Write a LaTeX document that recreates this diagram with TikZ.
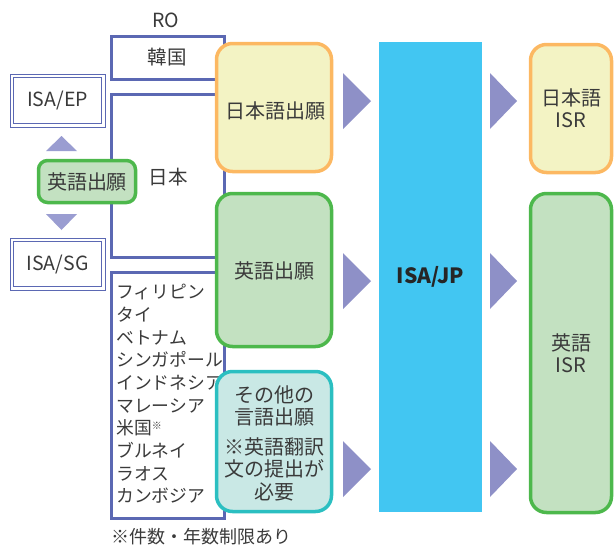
\documentclass[tikz,border=0pt]{standalone}
\usepackage{fontspec}
\setmainfont{Noto Sans CJK JP}
\definecolor{lineblue}{HTML}{5B68B3}
\definecolor{tri}{HTML}{9A9DD1}
\definecolor{arr}{HTML}{8E90C7}
\definecolor{grnB}{HTML}{4DB84C}
\definecolor{grnF}{HTML}{C3E1C1}
\definecolor{orgB}{HTML}{FCB862}
\definecolor{orgF}{HTML}{F3F3C4}
\definecolor{tealB}{HTML}{2BBFC1}
\definecolor{tealF}{HTML}{C9E8E5}
\definecolor{jpblue}{HTML}{42C6F2}
\definecolor{txt}{HTML}{3A3A3A}
\tikzset{
  bluebox/.style={draw=lineblue, line width=3pt, inner sep=0pt},
  rbox/.style={rounded corners=16pt, line width=3.5pt, inner sep=0pt, text=txt, align=center, font=\fontsize{20}{22}\selectfont},
  obox/.style={rbox, draw=orgB, fill=orgF},
  gbox/.style={rbox, draw=grnB, fill=grnF},
  tbox/.style={rbox, draw=tealB, fill=tealF},
  lbl/.style={text=txt, inner sep=0pt, font=\fontsize{19.5}{22}\selectfont},
  listtxt/.style={text=txt, inner sep=0pt, align=left, font=\fontsize{17.8}{22.7}\selectfont},
  boxtxt/.style={text=txt, inner sep=0pt, align=center, font=\fontsize{20}{22}\selectfont},
  arrowtri/.style={fill=arr},
  smalltri/.style={fill=tri}
}
\begin{document}
\begin{tikzpicture}[x=1pt,y=-1pt]
\useasboundingbox (0,0) rectangle (614,547);
% left bracket boxes
\node[bluebox, minimum width=113pt, minimum height=43pt] (kr) at (167.5,57.5) {};
\node[bluebox, minimum width=113pt, minimum height=163pt] (jp) at (167.5,175.5) {};
\node[bluebox, minimum width=113pt, minimum height=246pt] (lst) at (167.5,395) {};
\node[lbl] (ro) at (166,20) {RO};
\node[lbl] (krt) at (167,57) {韓国};
\node[lbl] (jpt) at (168,177) {日本};
\node[listtxt, anchor=north west] (lstt) at (116,284) {フィリピン\\タイ\\ベトナム\\シンガポール\\インドネシア\\マレーシア\\米国{\fontsize{10}{10}\selectfont\raisebox{5pt}{※}}\\ブルネイ\\ラオス\\カンボジア};
\node[text=txt, inner sep=0pt, anchor=west, font=\fontsize{18}{20}\selectfont] (note) at (111,537) {※件数・年数制限あり};
% ISA/EP and ISA/SG double boxes
\node[draw=lineblue, line width=0.9pt, minimum width=95pt, minimum height=53pt, inner sep=0pt] (ep) at (57.5,100.5) {};
\node[draw=lineblue, line width=1.8pt, minimum width=88pt, minimum height=46pt, inner sep=0pt, lbl] (epi) at (57.5,100.5) {ISA/EP};
\node[draw=lineblue, line width=0.9pt, minimum width=95pt, minimum height=52pt, inner sep=0pt] (sg) at (57.5,264) {};
\node[draw=lineblue, line width=1.8pt, minimum width=88pt, minimum height=45pt, inner sep=0pt, lbl] (sgi) at (57.5,264) {ISA/SG};
\fill[smalltri] (46,151) -- (77,151) -- (61.5,136) -- cycle;
\fill[smalltri] (46,214) -- (77,214) -- (61.5,230) -- cycle;
\node[gbox, rounded corners=9pt, minimum width=97pt, minimum height=42pt] (en0) at (87,181.5) {英語出願};
% application boxes
\node[obox, minimum width=115pt, minimum height=128pt] (jpapp) at (274,107.5) {};
\node[boxtxt] (jpappt) at (275,111) {日本語出願};
\node[gbox, minimum width=115pt, minimum height=153pt] (enapp) at (274,270) {};
\node[boxtxt] (enappt) at (274,271) {英語出願};
\node[tbox, minimum width=115pt, minimum height=140pt] (otapp) at (274,441.5) {};
\node[boxtxt] (ot1) at (274,406) {その他の\\言語出願};
\node[boxtxt, font=\fontsize{20}{22.5}\selectfont] (ot2) at (274,469) {※英語翻訳\\文の提出が\\必要};
% ISA/JP
\node[fill=jpblue, minimum width=103pt, minimum height=470pt, inner sep=0pt, text=black!85, font=\fontsize{21}{24}\selectfont\bfseries] (isajp) at (430.5,277) {ISA/JP};
% results
\node[obox, minimum width=81pt, minimum height=128pt] (jpisr) at (571,108.5) {日本語\\ISR};
\node[gbox, minimum width=81pt, minimum height=319pt] (enisr) at (571,353) {英語\\ISR};
% arrows
\foreach \y in {101,281,469}{
  \fill[arrowtri] (343,\y-28) -- (371,\y) -- (343,\y+28) -- cycle;
  \fill[arrowtri] (490,\y-28) -- (517,\y) -- (490,\y+28) -- cycle;
}
\end{tikzpicture}
\end{document}
